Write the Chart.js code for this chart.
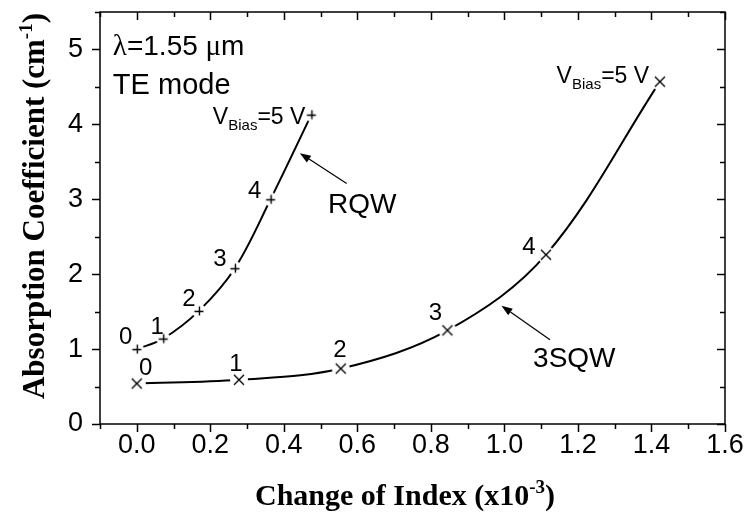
<!DOCTYPE html>
<html>
<head>
<meta charset="utf-8">
<script src="https://cdn.jsdelivr.net/npm/chart.js@4.4.1/dist/chart.umd.min.js"></script>
<style>
    html, body { margin: 0; padding: 0; background: #fff; }
</style>
</head>
<body>
<canvas id="chart" width="749" height="514"></canvas>
<script>
// bias voltage steps, 0..5 V
const biasSteps = [0, 1, 2, 3, 4, 5];

// RQW (+ markers)
const rqwIndex = [0.0, 0.072, 0.169, 0.267, 0.364, 0.475];
const rqwAbsorption = [1.00, 1.14, 1.51, 2.08, 3.00, 4.13];

// 3SQW (x markers)
const sqwIndex = [0.0, 0.278, 0.555, 0.845, 1.113, 1.423];
const sqwAbsorption = [0.54, 0.59, 0.74, 1.25, 2.26, 4.57];

const xTickLabels = [0.0, 0.2, 0.4, 0.6, 0.8, 1.0, 1.2, 1.4, 1.6];
const yTickLabels = [0, 1, 2, 3, 4, 5];

const SANS = 'Liberation Sans, Arial, sans-serif';
const SERIF = 'Liberation Serif, Times New Roman, serif';

// pixel offsets of the voltage numbers from their points
const rqwLabelOffsets = [[-11, -5], [-6, -5], [-10, -5], [-15, -2], [-16, -1]];
const sqwLabelOffsets = [[9, -9], [-3, -9], [-1, -12], [-12, -10], [-17, -1]];

// marker with a white disc behind it so the curve stops short of the symbol
function makeMarker(kind, gap) {
    let size = gap * 2 + 2;
    let c = document.createElement('canvas');
    c.width = size;
    c.height = size;
    let g = c.getContext('2d');
    let m = size / 2;
    g.fillStyle = '#fff';
    g.beginPath();
    g.arc(m, m, gap, 0, Math.PI * 2);
    g.fill();
    g.strokeStyle = '#000';
    g.lineWidth = 1.4;
    g.beginPath();
    if (kind === 'plus') {
        let r = 4.5;
        g.moveTo(m - r, m + 0.5); g.lineTo(m + r, m + 0.5);
        g.moveTo(m + 0.5, m - r); g.lineTo(m + 0.5, m + r);
    } else {
        let r = 5;
        g.moveTo(m - r, m - r); g.lineTo(m + r, m + r);
        g.moveTo(m - r, m + r); g.lineTo(m + r, m - r);
    }
    g.stroke();
    return c;
}

function toPoints(xs, ys) {
    return xs.map((v, i) => ({ x: v, y: ys[i] }));
}

// draws runs of text (normal / sub / superscript) starting at x, baseline y
function drawRuns(ctx, runs, x, y, align) {
    let total = 0;
    for (let r of runs) {
        ctx.font = r.font;
        total += ctx.measureText(r.text).width;
    }
    let cx = align === 'center' ? x - total / 2 : x;
    ctx.textAlign = 'left';
    ctx.textBaseline = 'alphabetic';
    for (let r of runs) {
        ctx.font = r.font;
        ctx.fillText(r.text, cx, y + (r.dy || 0));
        cx += ctx.measureText(r.text).width;
    }
}

function drawArrow(ctx, x0, y0, x1, y1) {
    let ang = Math.atan2(y1 - y0, x1 - x0);
    let len = 11, half = 4;
    let bx = x1 - len * Math.cos(ang), by = y1 - len * Math.sin(ang);
    ctx.lineWidth = 1.2;
    ctx.beginPath();
    ctx.moveTo(x0, y0);
    ctx.lineTo(bx, by);
    ctx.stroke();
    ctx.beginPath();
    ctx.moveTo(x1, y1);
    ctx.lineTo(bx + half * Math.sin(ang), by - half * Math.cos(ang));
    ctx.lineTo(bx - half * Math.sin(ang), by + half * Math.cos(ang));
    ctx.closePath();
    ctx.fill();
}

function biasRuns(size) {
    return [
        { text: 'V', font: `${size}px ${SANS}` },
        { text: 'Bias', font: `15px ${SANS}`, dy: 6 },
        { text: '=5 V', font: `${size}px ${SANS}` }
    ];
}

const decorations = {
    id: 'decorations',
    afterDraw(chart) {
        const { ctx, chartArea: a, scales: { x, y } } = chart;
        ctx.save();
        ctx.strokeStyle = '#000';
        ctx.fillStyle = '#000';

        // frame + ticks (bottom/left outward, top/right inward)
        ctx.lineWidth = 1.5;
        ctx.strokeRect(a.left, a.top, a.right - a.left, a.bottom - a.top);
        ctx.beginPath();
        for (let i = -1; i <= 16; i++) {
            let px = Math.round(x.getPixelForValue(i / 10)) + 0.5;
            let len = i % 2 === 0 ? 8 : 5;
            ctx.moveTo(px, a.bottom); ctx.lineTo(px, a.bottom + len);
            ctx.moveTo(px, a.top); ctx.lineTo(px, a.top + len);
        }
        for (let i = 0; i <= 11; i++) {
            let py = Math.round(y.getPixelForValue(i / 2)) + 0.5;
            let len = i % 2 === 0 ? 8 : 5;
            ctx.moveTo(a.left - len, py); ctx.lineTo(a.left, py);
            ctx.moveTo(a.right - len, py); ctx.lineTo(a.right, py);
        }
        ctx.stroke();

        // voltage numbers next to the points
        ctx.font = `24px ${SANS}`;
        ctx.textAlign = 'center';
        ctx.textBaseline = 'alphabetic';
        rqwLabelOffsets.forEach((o, i) => {
            ctx.fillText(String(biasSteps[i]), x.getPixelForValue(rqwIndex[i]) + o[0], y.getPixelForValue(rqwAbsorption[i]) + o[1]);
        });
        sqwLabelOffsets.forEach((o, i) => {
            ctx.fillText(String(biasSteps[i]), x.getPixelForValue(sqwIndex[i]) + o[0], y.getPixelForValue(sqwAbsorption[i]) + o[1]);
        });

        // V_Bias=5 V labels
        drawRuns(ctx, biasRuns(23), x.getPixelForValue(0.207), y.getPixelForValue(4.01), 'left');
        drawRuns(ctx, biasRuns(23), x.getPixelForValue(1.142), y.getPixelForValue(4.55), 'left');

        // wavelength / mode
        drawRuns(ctx, [
            { text: '\u03bb', font: `29px ${SERIF}` },
            { text: '=1.55 ', font: `28px ${SANS}` },
            { text: '\u03bc', font: `29px ${SERIF}` },
            { text: 'm', font: `28px ${SANS}` }
        ], x.getPixelForValue(-0.065), y.getPixelForValue(4.93), 'left');
        drawRuns(ctx, [{ text: 'TE mode', font: `29px ${SANS}` }], x.getPixelForValue(-0.065), y.getPixelForValue(4.40), 'left');

        // curve names with arrows
        drawRuns(ctx, [{ text: 'RQW', font: `28px ${SANS}` }], x.getPixelForValue(0.520), y.getPixelForValue(2.82), 'left');
        drawRuns(ctx, [{ text: '3SQW', font: `28px ${SANS}` }], x.getPixelForValue(1.078), y.getPixelForValue(0.761), 'left');
        drawArrow(ctx, x.getPixelForValue(0.571), y.getPixelForValue(3.21), x.getPixelForValue(0.4435), y.getPixelForValue(3.616));
        drawArrow(ctx, x.getPixelForValue(1.124), y.getPixelForValue(1.125), x.getPixelForValue(0.992), y.getPixelForValue(1.580));

        // axis titles
        let sup = `bold 19px ${SERIF}`;
        drawRuns(ctx, [
            { text: 'Change of Index (x10', font: `bold 30px ${SERIF}` },
            { text: '-3', font: sup, dy: -12 },
            { text: ')', font: `bold 30px ${SERIF}` }
        ], 405, 505, 'center');

        ctx.save();
        ctx.translate(44, 206);
        ctx.rotate(-Math.PI / 2);
        drawRuns(ctx, [
            { text: 'Absorption Coefficient (cm', font: `bold 31px ${SERIF}` },
            { text: '-1', font: sup, dy: -12 },
            { text: ')', font: `bold 31px ${SERIF}` }
        ], 0, 0, 'center');
        ctx.restore();

        ctx.restore();
    }
};

const tickFont = { family: SANS, size: 27, lineHeight: 0.6 };

new Chart(document.getElementById('chart'), {
    type: 'line',
    data: {
        datasets: [
            {
                label: 'RQW',
                data: toPoints(rqwIndex, rqwAbsorption),
                borderColor: '#000',
                borderWidth: 2,
                tension: 0.35,
                pointStyle: makeMarker('plus', 7),
                pointRadius: 8,
                fill: false
            },
            {
                label: '3SQW',
                data: toPoints(sqwIndex, sqwAbsorption),
                borderColor: '#000',
                borderWidth: 2,
                tension: 0.35,
                pointStyle: makeMarker('cross', 9),
                pointRadius: 10,
                fill: false
            }
        ]
    },
    options: {
        responsive: false,
        animation: false,
        devicePixelRatio: 1,
        layout: { padding: { top: 9, right: 24, left: 0, bottom: 0 } },
        plugins: {
            legend: { display: false },
            tooltip: { enabled: false }
        },
        scales: {
            x: {
                type: 'linear',
                min: -0.1,
                max: 1.6,
                afterBuildTicks: (s) => { s.ticks = xTickLabels.map(v => ({ value: v })); },
                afterFit: (s) => { s.height = 90; s.paddingLeft = 0; s.paddingRight = 0; },
                ticks: {
                    color: '#000',
                    font: tickFont,
                    padding: 13,
                    maxRotation: 0,
                    autoSkip: false,
                    callback: (v) => Number(v).toFixed(1)
                },
                grid: { display: false, drawTicks: false },
                border: { display: false }
            },
            y: {
                type: 'linear',
                min: 0,
                max: 5.5,
                afterBuildTicks: (s) => { s.ticks = yTickLabels.map(v => ({ value: v })); },
                afterFit: (s) => { s.width = 100; s.paddingTop = 0; s.paddingBottom = 0; },
                ticks: {
                    color: '#000',
                    font: tickFont,
                    padding: 17,
                    autoSkip: false,
                    callback: (v) => String(v)
                },
                grid: { display: false, drawTicks: false },
                border: { display: false }
            }
        }
    },
    plugins: [decorations]
});
</script>
</body>
</html>
